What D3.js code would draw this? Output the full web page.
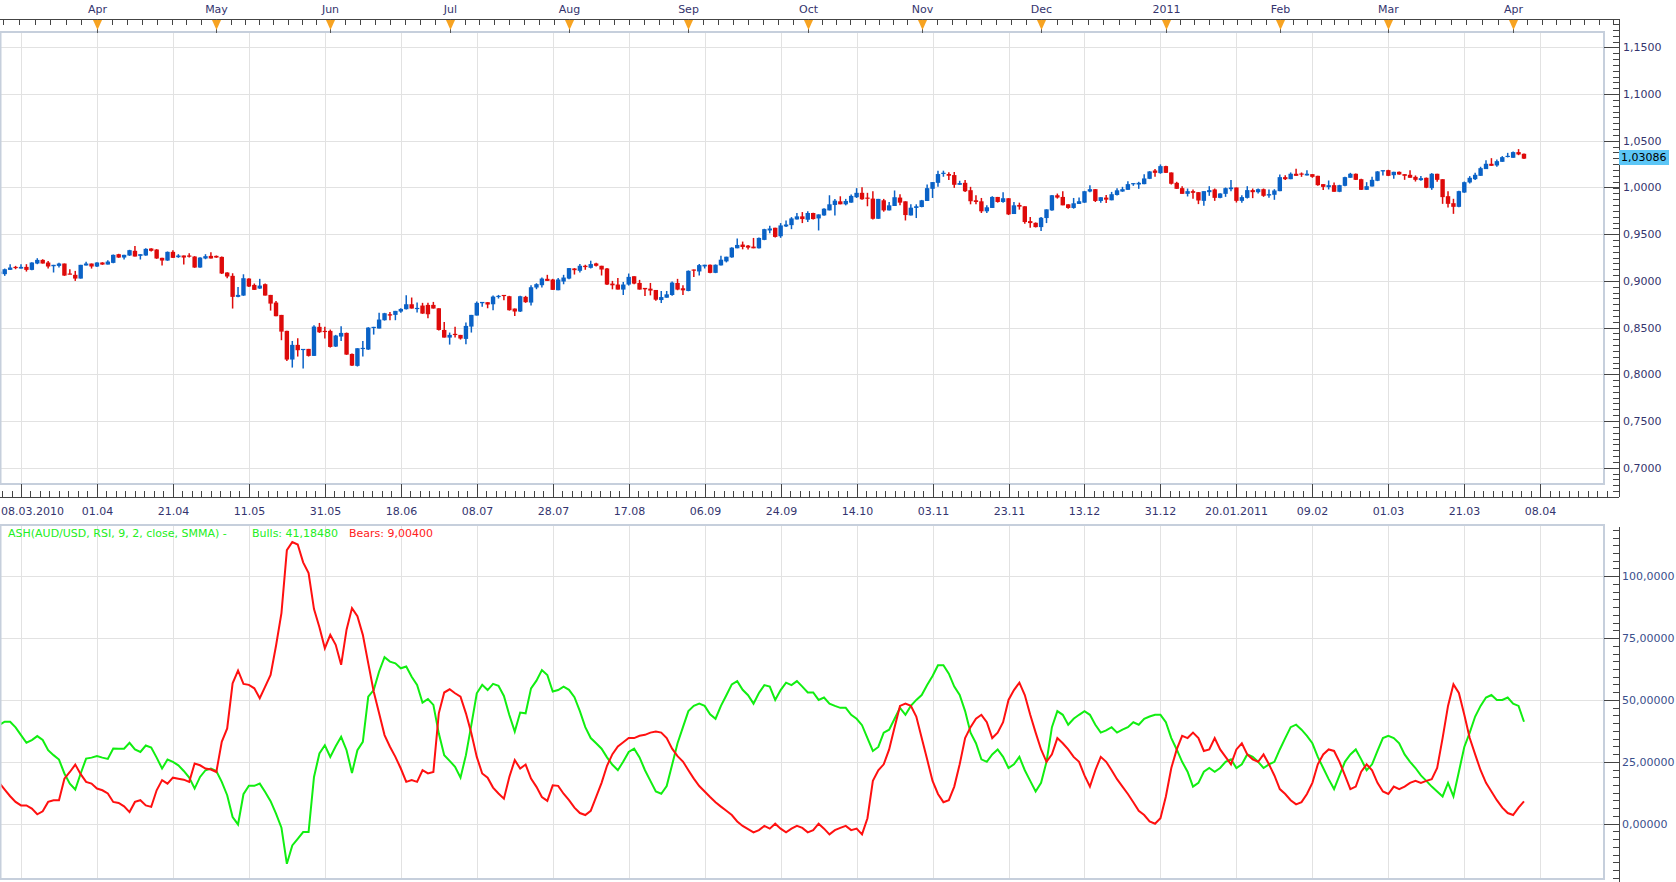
<!DOCTYPE html>
<html>
<head>
<meta charset="utf-8">
<script src="https://cdn.jsdelivr.net/npm/d3@7"></script>
<style>
body { margin: 0; background: #fff; }
text { font-family: "DejaVu Sans", Verdana, sans-serif; font-size: 11px; }
</style>
</head>
<body>
<div id="chart"></div>
<script>
// daily AUD/USD candles, first bar 08.03.2010, weekdays only
var firstDay = new Date(2010, 2, 8);

var open = [
.9075,.9072,.9118,.9150,.9132,.9150,.9118,.9186,.9225,.9197,
.9157,.9161,.9186,.9079,.9065,.9025,.9165,.9186,.9154,.9197,
.9175,.9193,.9286,.9250,.9272,.9322,.9268,.9272,.9347,.9336,
.9247,.9218,.9311,.9254,.9272,.9272,.9261,.9143,.9240,.9268,
.9268,.9257,.9090,.9054,.8829,.8843,.9025,.8957,.8918,.8965,
.8850,.8768,.8636,.8465,.8158,.8315,.8261,.8272,.8197,.8508,
.8465,.8465,.8297,.8404,.8443,.8218,.8090,.8275,.8265,.8500,
.8490,.8579,.8643,.8636,.8672,.8697,.8750,.8700,.8736,.8743,
.8743,.8707,.8475,.8393,.8433,.8422,.8379,.8511,.8629,.8761,
.8772,.8750,.8829,.8850,.8836,.8704,.8672,.8829,.8768,.8929,
.8954,.9022,.9015,.8900,.8993,.9025,.9133,.9108,.9162,.9140,
.9187,.9162,.9133,.8971,.8961,.8907,.8961,.9050,.8978,.8925,
.8917,.8903,.8795,.8820,.8849,.8978,.8921,.8892,.9122,.9101,
.9155,.9173,.9086,.9166,.9209,.9252,.9349,.9389,.9378,.9367,
.9349,.9439,.9540,.9569,.9478,.9583,.9597,.9658,.9691,.9655,
.9727,.9669,.9701,.9755,.9813,.9852,.9820,.9838,.9896,.9943,
.9892,.9881,.9665,.9863,.9755,.9802,.9892,.9852,.9701,.9781,
.9791,.9856,.9986,1.0050,1.0148,1.0144,1.0133,1.0029,1.0050,.9971,
.9863,.9852,.9745,.9781,.9899,.9845,.9885,.9716,.9813,.9799,
.9640,.9622,.9576,.9673,.9755,.9917,.9899,.9820,.9781,.9824,
.9838,.9957,.9982,.9856,.9892,.9863,.9920,.9957,.9975,1.0036,
1.0032,1.0036,1.0093,1.0182,1.0154,1.0229,1.0161,1.0050,.9993,.9932,
.9961,.9950,.9857,.9950,.9979,.9889,.9932,.9982,1.0000,.9857,
.9889,.9972,.9950,.9982,.9914,.9922,.9961,1.0111,1.0089,1.0147,
1.0150,1.0129,1.0143,1.0125,1.0036,1.0004,1.0025,.9954,1.0018,1.0104,
1.0147,1.0089,.9975,1.0011,1.0072,1.0172,1.0186,1.0132,1.0168,1.0143,
1.0136,1.0114,1.0079,1.0104,.9993,1.0147,1.0089,.9907,.9832,.9793,
.9946,1.0054,1.0089,1.0125,1.0197,1.0254,1.0236,1.0275,1.0329,1.0318,
1.0379,1.0361];

var high = [
.9110,.9132,.9179,.9161,.9179,.9179,.9200,.9243,.9232,.9214,
.9172,.9193,.9186,.9125,.9107,.9172,.9204,.9186,.9200,.9200,
.9222,.9283,.9290,.9279,.9333,.9375,.9286,.9350,.9350,.9340,
.9247,.9315,.9329,.9286,.9272,.9297,.9265,.9254,.9286,.9307,
.9272,.9261,.9093,.9082,.8936,.9071,.9029,.8972,.9022,.8972,
.8850,.8786,.8636,.8465,.8357,.8386,.8272,.8272,.8525,.8550,
.8508,.8479,.8422,.8515,.8447,.8222,.8279,.8357,.8504,.8508,
.8658,.8658,.8668,.8679,.8708,.8847,.8822,.8768,.8765,.8765,
.8775,.8707,.8561,.8447,.8508,.8422,.8554,.8636,.8779,.8775,
.8772,.8843,.8850,.8850,.8840,.8704,.8840,.8840,.8954,.8975,
.9036,.9065,.9022,.9030,.9065,.9137,.9137,.9180,.9173,.9216,
.9194,.9162,.9137,.9000,.9032,.8989,.9079,.9050,.9011,.8925,
.8978,.8903,.8892,.8892,.8993,.9022,.8953,.9112,.9122,.9180,
.9173,.9176,.9176,.9270,.9259,.9360,.9453,.9421,.9385,.9460,
.9464,.9558,.9590,.9569,.9619,.9647,.9683,.9727,.9737,.9745,
.9730,.9712,.9777,.9917,.9878,.9906,.9878,.9924,.9993,1.0004,
.9943,.9960,.9878,.9878,.9845,.9968,.9928,.9852,.9820,.9820,
.9867,1.0032,1.0058,1.0180,1.0180,1.0162,1.0166,1.0072,1.0079,1.0007,
.9917,.9888,.9809,.9907,.9899,.9950,.9885,.9845,.9838,.9799,
.9683,.9626,.9683,.9766,.9921,.9935,.9960,.9820,.9888,.9892,
.9964,1.0025,.9982,.9896,.9921,.9953,.9993,1.0007,1.0068,1.0047,
1.0061,1.0143,1.0175,1.0197,1.0247,1.0232,1.0161,1.0061,1.0014,.9989,
.9979,.9950,.9961,1.0014,.9989,.9939,1.0000,1.0079,1.0000,.9918,
1.0014,.9989,.9989,.9989,.9979,.9982,1.0139,1.0132,1.0161,1.0200,
1.0161,1.0186,1.0143,1.0125,1.0036,1.0075,1.0054,1.0029,1.0114,1.0157,
1.0150,1.0093,1.0057,1.0114,1.0175,1.0186,1.0190,1.0168,1.0172,1.0143,
1.0186,1.0129,1.0122,1.0107,1.0154,1.0147,1.0089,.9961,.9879,.9964,
1.0064,1.0122,1.0157,1.0222,1.0293,1.0314,1.0300,1.0336,1.0371,1.0386,
1.0411,1.0364];

var low = [
.9065,.9054,.9118,.9125,.9132,.9100,.9115,.9179,.9186,.9132,
.9090,.9143,.9054,.9072,.9000,.9025,.9165,.9132,.9150,.9172,
.9175,.9190,.9247,.9229,.9268,.9261,.9229,.9268,.9315,.9236,
.9165,.9215,.9245,.9247,.9175,.9250,.9140,.9140,.9232,.9240,
.9247,.9075,.9029,.8704,.8825,.8840,.8936,.8904,.8915,.8843,
.8682,.8622,.8365,.8143,.8072,.8190,.8061,.8190,.8197,.8443,
.8383,.8286,.8293,.8357,.8208,.8090,.8083,.8190,.8261,.8425,
.8490,.8575,.8579,.8579,.8658,.8693,.8704,.8661,.8647,.8600,
.8704,.8468,.8393,.8318,.8393,.8372,.8322,.8447,.8629,.8722,
.8707,.8686,.8811,.8793,.8682,.8625,.8668,.8765,.8736,.8911,
.8929,.9000,.8904,.8900,.8964,.9018,.9068,.9090,.9119,.9133,
.9155,.9058,.8957,.8910,.8907,.8849,.8950,.8964,.8907,.8838,
.8845,.8788,.8763,.8820,.8842,.8900,.8849,.8889,.9043,.9058,
.9133,.9083,.9083,.9166,.9198,.9249,.9349,.9338,.9335,.9349,
.9346,.9436,.9511,.9464,.9461,.9576,.9554,.9658,.9619,.9630,
.9658,.9540,.9698,.9755,.9701,.9820,.9809,.9838,.9888,.9870,
.9799,.9658,.9665,.9741,.9755,.9802,.9809,.9647,.9701,.9673,
.9788,.9856,.9888,1.0007,1.0115,1.0079,.9996,1.0029,.9953,.9820,
.9820,.9727,.9727,.9781,.9838,.9838,.9705,.9716,.9763,.9612,
.9569,.9572,.9533,.9619,.9752,.9881,.9809,.9773,.9773,.9824,
.9835,.9950,.9845,.9838,.9835,.9863,.9915,.9954,.9975,1.0018,
.9986,1.0036,1.0090,1.0114,1.0147,1.0154,1.0032,.9986,.9932,.9904,
.9879,.9822,.9804,.9911,.9857,.9886,.9900,.9961,.9839,.9836,
.9882,.9886,.9936,.9900,.9889,.9868,.9961,1.0079,1.0089,1.0125,
1.0114,1.0129,1.0104,1.0018,.9972,.9979,.9954,.9950,1.0014,1.0104,
1.0079,.9972,.9975,1.0011,1.0068,1.0129,1.0122,1.0093,1.0136,1.0082,
1.0104,1.0064,1.0072,.9993,.9975,1.0061,.9825,.9786,.9718,.9789,
.9943,1.0043,1.0079,1.0125,1.0197,1.0232,1.0222,1.0275,1.0322,1.0318,
1.0346,1.0305];

var close = [
.9100,.9125,.9143,.9140,.9150,.9118,.9197,.9225,.9186,.9154,
.9172,.9186,.9057,.9072,.9025,.9172,.9186,.9154,.9197,.9175,
.9207,.9279,.9250,.9279,.9329,.9261,.9286,.9343,.9322,.9240,
.9218,.9311,.9247,.9272,.9250,.9261,.9143,.9250,.9265,.9240,
.9250,.9079,.9047,.8829,.8850,.9029,.8940,.8904,.8950,.8843,
.8757,.8622,.8457,.8158,.8315,.8258,.8272,.8197,.8511,.8450,
.8458,.8293,.8415,.8443,.8211,.8093,.8279,.8283,.8500,.8508,
.8586,.8654,.8629,.8679,.8700,.8750,.8704,.8711,.8650,.8643,
.8704,.8475,.8393,.8422,.8425,.8383,.8518,.8636,.8765,.8775,
.8747,.8832,.8840,.8843,.8686,.8672,.8836,.8772,.8932,.8965,
.9025,.9000,.8904,.9015,.9036,.9137,.9115,.9162,.9148,.9180,
.9162,.9122,.8961,.8953,.8907,.8961,.9043,.8971,.8907,.8910,
.8896,.8799,.8827,.8856,.8982,.8907,.8899,.9108,.9112,.9169,
.9173,.9086,.9173,.9227,.9259,.9356,.9385,.9363,.9356,.9349,
.9460,.9554,.9561,.9471,.9594,.9604,.9669,.9691,.9662,.9727,
.9662,.9712,.9773,.9820,.9859,.9820,.9856,.9910,.9943,.9874,
.9885,.9665,.9878,.9755,.9809,.9896,.9838,.9705,.9784,.9799,
.9863,.9993,1.0058,1.0144,1.0158,1.0126,1.0029,1.0047,.9960,.9853,
.9845,.9745,.9788,.9899,.9845,.9885,.9712,.9809,.9795,.9630,
.9619,.9576,.9676,.9766,.9917,.9892,.9809,.9781,.9831,.9853,
.9960,.9982,.9856,.9896,.9870,.9928,.9970,.9982,1.0036,1.0047,
1.0050,1.0097,1.0172,1.0157,1.0229,1.0157,1.0040,.9986,.9932,.9961,
.9943,.9861,.9961,.9972,.9889,.9936,.9993,1.0000,.9857,.9897,
.9972,.9950,.9982,.9911,.9929,.9968,1.0111,1.0089,1.0147,1.0125,
1.0139,1.0147,1.0114,1.0025,1.0007,1.0025,.9954,1.0025,1.0111,1.0147,
1.0082,.9975,1.0014,1.0082,1.0172,1.0186,1.0125,1.0168,1.0139,1.0125,
1.0104,1.0082,1.0100,.9997,1.0147,1.0082,.9897,.9825,.9793,.9961,
1.0057,1.0104,1.0136,1.0207,1.0254,1.0232,1.0282,1.0325,1.0339,1.0379,
1.0354,1.0309];

// ASH indicator, one value per bar
var bulls = [
39.9,41.2,41.2,38.9,35.8,32.7,33.8,35.4,33.8,29.7,
27.7,25.9,20.3,16.2,13.8,20.3,26.3,26.7,27.3,26.7,
26.2,30.4,30.3,30.3,32.7,30.0,29.0,31.6,30.8,26.7,
22.3,25.9,25.0,23.6,21.3,18.6,14.2,18.9,21.6,22.3,
21.3,16.9,11.5,2.7,-0.3,11.9,15.3,15.3,16.2,12.8,
9.1,4.1,-1.6,-16.2,-8.8,-6.1,-3.4,-3.4,18.9,28.4,
31.7,27.0,31.3,35.1,29.7,20.5,29.7,33.1,51.3,54.0,
61.5,67.3,65.5,64.8,62.8,63.5,59.4,56.1,48.9,50.4,
48.0,36.5,27.7,25.4,23.0,18.6,27.7,39.9,52.7,56.1,
54.0,56.5,55.7,51.6,43.9,37.2,44.9,44.6,54.7,57.8,
62.1,60.1,53.4,54.0,55.4,54.1,51.1,45.5,39,34.6,
32.5,30.3,26.8,23.8,21.6,25.1,29,30.3,26.8,21.6,
17.3,13,12.1,15.2,23.8,32.5,39,45.5,47.6,48.5,
47.6,44.2,42.4,47.6,51.9,56.3,57.6,54.1,51.9,48.5,
52.8,56,55.4,50,54,57,56,57.6,55.4,53,
53,50,51,48.5,47.6,46.8,46.8,44,42.4,39.8,
34.6,29.4,31,36.8,38,42.4,46.8,44,47.6,50,
52,56,59.7,64,64,60.6,55.4,52,45.5,36.8,
32.5,26,25,28,30,27,22.5,24,27,21.6,
17.3,13,16.5,25,39,45.5,44,40,42.4,44,
45.5,44,40,36.8,37.7,39,36.8,38,39,41,
40,42.4,43.3,44,44,41,34.6,30,25,21,
15,16.5,21,22.5,21,22.5,25,26,22.5,24,
28,27,25,22.5,24,25,30,34.6,39,40,
38,35.5,32.5,27,22.5,18,14,19.5,25,28,
30,26,21.6,24,29.4,34.6,35.5,34.6,32.5,28,
25,22.5,19.5,17.3,15,13,11,16.5,11,21,
31,36.8,43.3,47.6,51,52,50,50,51,48.5,
47.6,41.2];

var bears = [
16.5,13.8,11.1,8.8,7.4,7.4,6.1,3.8,5.0,8.8,
9.5,9.5,18.2,20.9,23.9,20.0,16.9,16.2,14.2,13.5,
12.2,8.8,8.4,7.0,4.7,8.8,9.5,7.4,6.8,13.5,
17.6,16.2,18.6,18.2,17.8,16.9,24.3,23.6,22.3,21.9,
20.9,33.1,38.5,56.7,61.9,56.5,56.1,54.7,50.7,55.4,
60.1,71.9,85.1,110.5,113.8,112.8,105.6,101.3,86.7,79.4,
70.9,76.3,72.3,64.2,78.4,87.1,83.8,76.3,64.8,53.4,
44.6,35.8,31.1,27.0,22.3,16.9,17.6,16.9,21.6,20.3,
20.9,44.6,53.0,54.3,52.7,51.3,44.6,36.5,27.0,20.3,
18.6,14.6,12.2,10.1,18.9,25.7,22.3,23.9,18.2,14.9,
10.8,9.2,15.5,15.3,12.1,9.5,6.5,4.3,3.5,5.2,
10.8,16.5,23.4,28.1,31.2,32.9,34.6,34.6,35.5,35.9,
36.8,37.2,36.8,34.6,30.3,27.3,25.1,21.6,18.2,15.2,
13,10.8,8.7,6.9,5.2,3.5,0.9,-0.9,-2.2,-3.5,
-2.6,-0.9,-2,0,-2,-3.5,-2,-0.9,-1.7,-3.5,
-2.6,0,-2,-4.3,-2.6,-1.7,-0.9,-2.6,-2,-4.3,
2.2,17.3,21.6,24,30,39,47.6,48.5,47.6,43.3,
34.6,26,17.3,12,8.7,9.5,15,24,34.6,39,
42.4,44,41,34.6,36.8,41,50,54,57,52,
44,36.8,30,25,28,34.6,32.5,30,27,25,
19.5,15,21.6,27,25,21.6,18,15,12,8.7,
5.2,3.5,0.9,0,2.2,11,22.5,30,35.5,34.6,
36.8,34.6,29.4,30,34.6,30,27,24,30,32.5,
28,26,25,28,24,19.5,14,12,9.5,7.8,
8.7,12,16.5,24,28,30,29.4,25,19.5,14,
15,21,24,21.6,16.5,13,12,15,14,15,
16.5,17.3,16.5,17.3,18,22.5,34.6,47.6,56.3,52.8,
44,34.6,28,21.6,16.5,13,9.5,6.5,4.3,3.5,
6.5,9.0];

var priceTicks = [0.70, 0.75, 0.80, 0.85, 0.90, 0.95, 1.00, 1.05, 1.10, 1.15];
var ashTicks = [0, 25, 50, 75, 100];
var lastQuote = 1.03086;
var legendName = "ASH(AUD/USD, RSI, 9, 2, close, SMMA) - ";
var bullsLast = 41.1848;
var bearsLast = 9.004;

// ---- layout
var W = 1676, H = 882;
var frameRight = 1604, axisX = 1619;
var topPanel = {top: 32, bottom: 484};
var lowPanel = {top: 525, bottom: 879};
var monthAxisY = 19, dateAxisY = 497;
var textColor = "#34346e", gridColor = "#e2e2e2", frameColor = "#c6cfdc";
var upColor = "#0a62c6", downColor = "#de0a0a";
var comma = function(s) { return s.replace(".", ","); };

var svg = d3.select("#chart").append("svg")
    .attr("width", W)
    .attr("height", H)
    .style("display", "block");
svg.append("rect").attr("width", W).attr("height", H).attr("fill", "#fff");

var defs = svg.append("defs");
defs.append("clipPath").attr("id", "clipTop").append("rect")
    .attr("x", 0).attr("y", topPanel.top).attr("width", frameRight).attr("height", topPanel.bottom - topPanel.top);
defs.append("clipPath").attr("id", "clipLow").append("rect")
    .attr("x", 0).attr("y", lowPanel.top).attr("width", frameRight).attr("height", lowPanel.bottom - lowPanel.top);

// bar index scale
var x = d3.scaleLinear().domain([4, 270]).range([21.0, 1464.3]);
var yPrice = d3.scaleLinear().domain([0.70, 1.15]).range([467.7, 47.4]);
var yAsh = d3.scaleLinear().domain([0, 100]).range([823.7, 576.2]);

// trading days (weekdays) from the start of March 2010
var days = d3.timeDay.range(new Date(2010, 2, 1), new Date(2011, 5, 1))
    .filter(function(d) { return d.getDay() % 6 !== 0; });
var offset = days.findIndex(function(d) { return +d === +firstDay; });
function dayAt(i) { return days[i + offset]; }

// month starts (bar index)
var monthIdx = [];
days.forEach(function(d, k) {
    if (k === 0 || d.getMonth() !== days[k - 1].getMonth()) monthIdx.push(k - offset);
});

// date ticks every 14 bars
var dateTicks = [];
for (var t = -10; x(t) < frameRight; t += 14) dateTicks.push(t);

// ---- grid
var grid = svg.append("g");
grid.selectAll(".hg").data(priceTicks).enter().append("line")
    .attr("x1", 0).attr("x2", frameRight)
    .attr("y1", d => Math.round(yPrice(d)) + 0.5).attr("y2", d => Math.round(yPrice(d)) + 0.5)
    .attr("stroke", gridColor);
grid.selectAll(".ag").data(ashTicks).enter().append("line")
    .attr("x1", 0).attr("x2", frameRight)
    .attr("y1", d => Math.round(yAsh(d)) + 0.5).attr("y2", d => Math.round(yAsh(d)) + 0.5)
    .attr("stroke", gridColor);
dateTicks.filter(d => x(d) > 0).forEach(function(d) {
    var xx = Math.round(x(d)) + 0.5;
    grid.append("line").attr("x1", xx).attr("x2", xx)
        .attr("y1", topPanel.top).attr("y2", topPanel.bottom).attr("stroke", gridColor);
    grid.append("line").attr("x1", xx).attr("x2", xx)
        .attr("y1", lowPanel.top).attr("y2", lowPanel.bottom).attr("stroke", gridColor);
});

// ---- candles
var bars = d3.range(close.length);
var candles = svg.append("g").attr("clip-path", "url(#clipTop)");
candles.selectAll(".wick").data(bars).enter().append("line")
    .attr("x1", i => x(i)).attr("x2", i => x(i))
    .attr("y1", i => yPrice(high[i])).attr("y2", i => yPrice(low[i]))
    .attr("stroke", i => close[i] >= open[i] ? upColor : downColor)
    .attr("stroke-width", 1.5);
candles.selectAll(".body").data(bars).enter().append("rect")
    .attr("x", i => x(i) - 2.2)
    .attr("width", 4.4)
    .attr("y", i => yPrice(Math.max(open[i], close[i])))
    .attr("height", i => Math.max(1.2, Math.abs(yPrice(open[i]) - yPrice(close[i]))))
    .attr("fill", i => close[i] >= open[i] ? upColor : downColor);

// ---- indicator lines
var lowG = svg.append("g").attr("clip-path", "url(#clipLow)");
var line = d3.line().x((d, i) => x(i)).y(d => yAsh(d));
lowG.append("path").datum(bulls).attr("d", line)
    .attr("fill", "none").attr("stroke", "#11ee11").attr("stroke-width", 2);
lowG.append("path").datum(bears).attr("d", line)
    .attr("fill", "none").attr("stroke", "#ff1010").attr("stroke-width", 2);

// ---- frames
[topPanel, lowPanel].forEach(function(p) {
    svg.append("rect").attr("x", 0.5).attr("y", p.top).attr("width", frameRight - 0.5)
        .attr("height", p.bottom - p.top)
        .attr("fill", "none").attr("stroke", frameColor).attr("stroke-width", 2);
});

var axes = svg.append("g").attr("stroke", "#444").attr("shape-rendering", "crispEdges");

// ---- month axis on top
axes.append("line").attr("x1", 0).attr("x2", axisX).attr("y1", monthAxisY + 0.5).attr("y2", monthAxisY + 0.5);
for (var m = 0; m < monthIdx.length - 1; m++) {
    for (var s = 0; s < 8; s++) {
        var xm = x(monthIdx[m] + (monthIdx[m + 1] - monthIdx[m]) * s / 8);
        if (xm < 0 || xm > axisX) continue;
        axes.append("line").attr("x1", Math.round(xm) + 0.5).attr("x2", Math.round(xm) + 0.5)
            .attr("y1", monthAxisY).attr("y2", monthAxisY + 6);
    }
}
var months = monthIdx.filter(i => x(i) > 0 && x(i) < frameRight);
var mk = svg.append("g");
months.forEach(function(i) {
    var xx = Math.round(x(i)) + 0.5;
    mk.append("line").attr("x1", xx).attr("x2", xx).attr("y1", monthAxisY).attr("y2", topPanel.top + 1)
        .attr("stroke", "#555");
    mk.append("path").attr("d", `M${xx - 4.5},${monthAxisY + 1}L${xx + 4.5},${monthAxisY + 1}L${xx},${monthAxisY + 11}Z`)
        .attr("fill", "#f7a321");
    var d = dayAt(i);
    mk.append("text").attr("x", xx).attr("y", 13).attr("text-anchor", "middle").attr("fill", textColor)
        .text(d.getMonth() === 0 ? d3.timeFormat("%Y")(d) : d3.timeFormat("%b")(d));
});

// ---- price axis
var yTop = yPrice.invert(monthAxisY), yBot = yPrice.invert(dateAxisY);
axes.append("line").attr("x1", axisX + 0.5).attr("x2", axisX + 0.5).attr("y1", monthAxisY).attr("y2", dateAxisY);
for (var v = 0.6625; v < yTop; v += 0.00625) {
    if (v < yBot) continue;
    var yy = Math.round(yPrice(v)) + 0.5;
    axes.append("line").attr("x1", axisX - 6).attr("x2", axisX).attr("y1", yy).attr("y2", yy);
}
priceTicks.forEach(function(p) {
    var yy = Math.round(yPrice(p)) + 0.5;
    axes.append("line").attr("x1", frameRight).attr("x2", axisX).attr("y1", yy).attr("y2", yy);
    svg.append("text").attr("x", axisX + 4).attr("y", yy).attr("dy", "0.35em").attr("fill", textColor)
        .text(comma(d3.format(".4f")(p)));
});
var yq = yPrice(lastQuote);
svg.append("rect").attr("x", axisX).attr("y", Math.round(yq) - 9).attr("width", 50).attr("height", 15)
    .attr("fill", "#5cc6f6");
svg.append("text").attr("x", axisX + 2).attr("y", Math.round(yq) - 1.5).attr("dy", "0.35em").attr("fill", "#000")
    .text(comma(d3.format(".5f")(lastQuote)));

// ---- date axis
axes.append("line").attr("x1", 0).attr("x2", axisX).attr("y1", dateAxisY + 0.5).attr("y2", dateAxisY + 0.5);
dateTicks.forEach(function(t0) {
    for (var s = 0; s < 8; s++) {
        var xt = x(t0 + 14 * s / 8);
        if (xt < 0 || xt > axisX) continue;
        axes.append("line").attr("x1", Math.round(xt) + 0.5).attr("x2", Math.round(xt) + 0.5)
            .attr("y1", s === 0 ? topPanel.bottom : dateAxisY - 6).attr("y2", dateAxisY);
    }
});
svg.append("text").attr("x", 1).attr("y", 515).attr("fill", textColor)
    .text(d3.timeFormat("%d.%m.%Y")(dayAt(0)));
var lastYear = dayAt(0).getFullYear();
dateTicks.filter(t => t >= 18).forEach(function(t) {
    var d = dayAt(t);
    var f = d.getFullYear() !== lastYear ? "%d.%m.%Y" : "%d.%m";
    lastYear = d.getFullYear();
    svg.append("text").attr("x", Math.round(x(t)) + 0.5).attr("y", 515).attr("text-anchor", "middle")
        .attr("fill", textColor).text(d3.timeFormat(f)(d));
});

// ---- ASH axis
axes.append("line").attr("x1", axisX + 0.5).attr("x2", axisX + 0.5).attr("y1", lowPanel.top + 2).attr("y2", H);
for (var a = -25; a <= 125; a += 3.125) {
    var ya = Math.round(yAsh(a)) + 0.5;
    if (ya < lowPanel.top + 2 || ya > H) continue;
    axes.append("line").attr("x1", axisX - 6).attr("x2", axisX).attr("y1", ya).attr("y2", ya);
}
ashTicks.forEach(function(a) {
    var ya = Math.round(yAsh(a)) + 0.5;
    axes.append("line").attr("x1", frameRight).attr("x2", axisX).attr("y1", ya).attr("y2", ya);
    svg.append("text").attr("x", axisX + 3).attr("y", ya).attr("dy", "0.35em").attr("fill", "#3a4f8c")
        .text(comma(d3.format(a >= 100 ? ".4f" : ".5f")(a)));
});

// ---- legend
svg.append("text").attr("x", 8).attr("y", 537).attr("fill", "#22ee22").text(legendName);
svg.append("text").attr("x", 252).attr("y", 537).attr("fill", "#22ee22").text("Bulls: " + comma(d3.format(".5f")(bullsLast)));
svg.append("text").attr("x", 349).attr("y", 537).attr("fill", "#ff2020").text("Bears: " + comma(d3.format(".5f")(bearsLast)));
</script>
</body>
</html>
